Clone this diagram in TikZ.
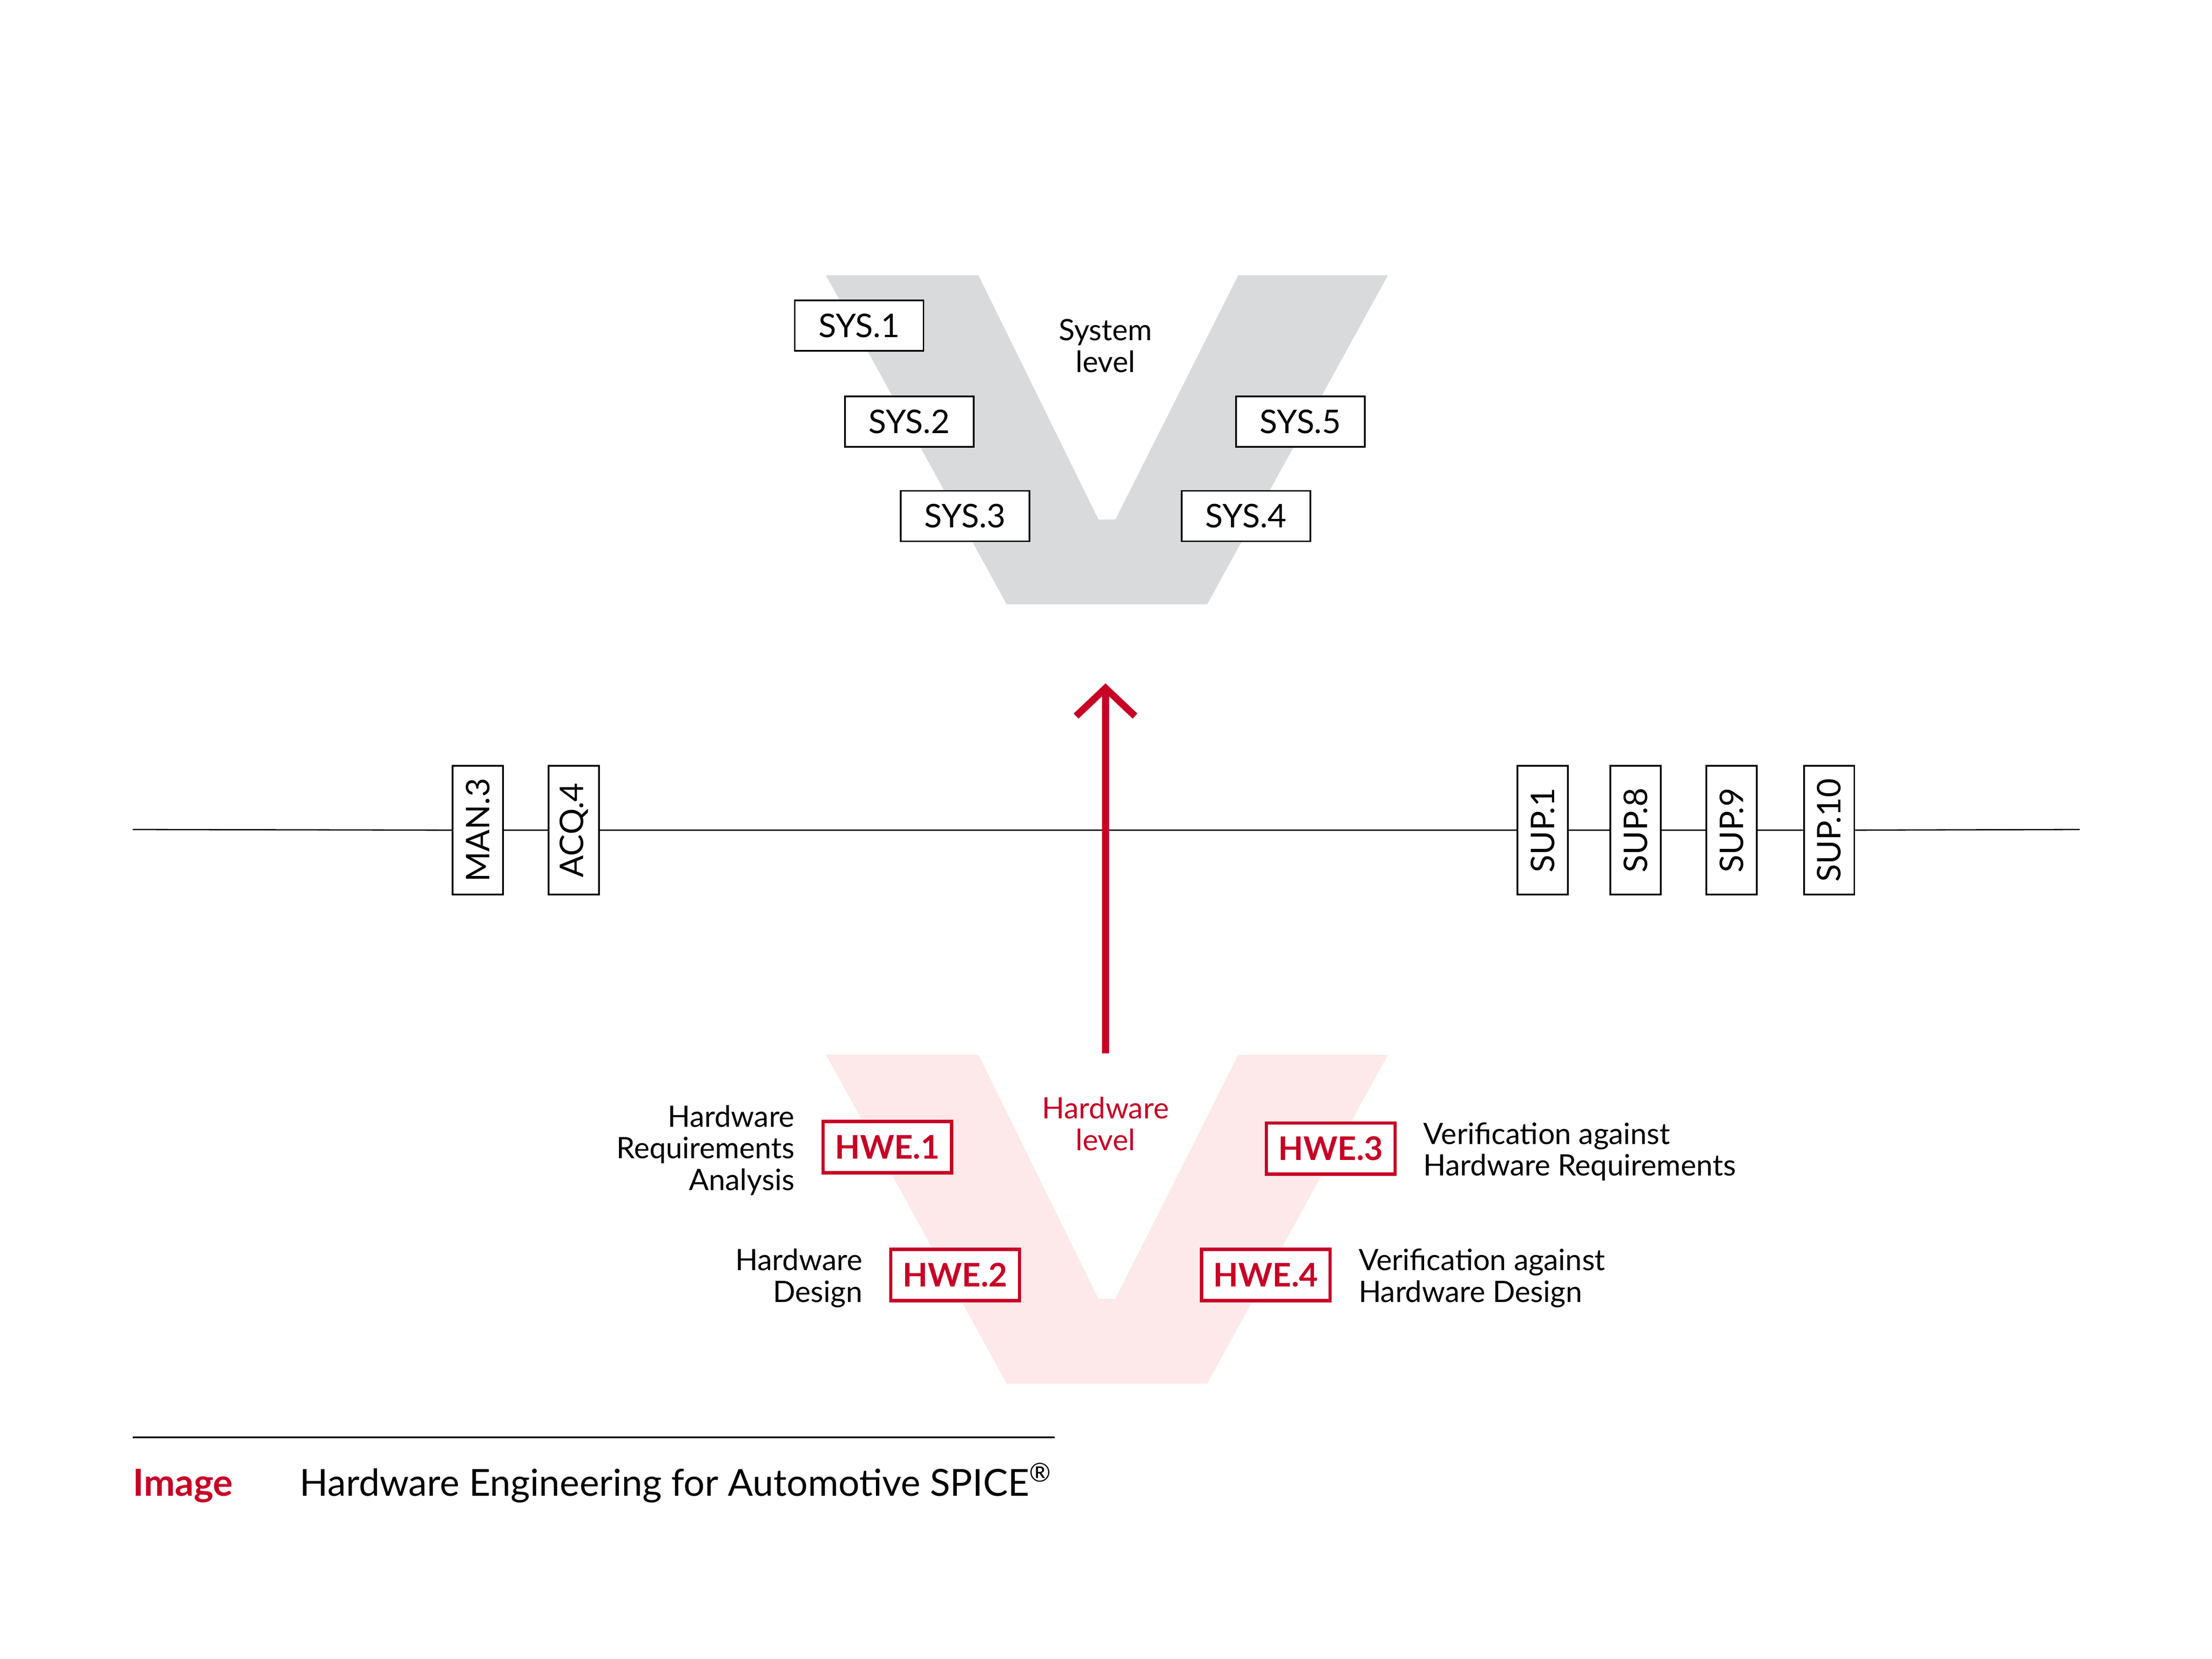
\documentclass[tikz,border=0pt]{standalone}
\usepackage{fontspec}
\setmainfont{Lato}
\usetikzlibrary{positioning}
\usetikzlibrary{arrows.meta}
\usepackage{xcolor}
\definecolor{hwred}{RGB}{200,0,38}
\definecolor{vgray}{RGB}{217,218,219}
\definecolor{vpink}{RGB}{253,233,233}

\begin{document}
\begin{tikzpicture}[
        x=0.32mm, y=-0.32mm,
        pbox/.style={rectangle, draw=black, fill=white, line width=1.1pt, minimum width=83pt, minimum height=32.5pt, inner sep=0pt, font=\fontsize{21}{24}\selectfont},
        vbox/.style={pbox, rotate=90},
        hbox/.style={rectangle, draw=hwred, fill=white, line width=2.2pt, minimum width=83pt, minimum height=33pt, inner sep=0pt, text=hwred, font=\fontsize{21}{24}\selectfont\bfseries},
        lbl/.style={inner sep=0pt, font=\fontsize{19}{20.5}\selectfont},
        node distance=6mm
    ]
        \useasboundingbox (0,0) rectangle (1566.7,1175);

        % the two V shapes
        \fill[vgray] (585,195) -- (693,195) -- (778,368) -- (790,368) -- (877,195) -- (983,195) -- (855,428) -- (713,428) -- cycle;
        \fill[vpink] (585,747) -- (693,747) -- (778,920) -- (790,920) -- (877,747) -- (983,747) -- (855,980) -- (713,980) -- cycle;

        % system level
        \node[pbox] (sys1) at (608.5,230.5) {SYS.1};
        \node[pbox] (sys2) at (644,298.5) {SYS.2};
        \node[pbox] (sys3) at (683.5,365.5) {SYS.3};
        \node[pbox] (sys4) at (882.5,365.5) {SYS.4};
        \node[pbox] (sys5) at (921,298.5) {SYS.5};
        \node[lbl, align=center] (syslevel) at (783,245) {System\\level};

        % processes along the line
        \coordinate (lineL) at (94,587.5);
        \coordinate (lineR) at (1473,587.5);
        \node[vbox] (man3) at (338.5,588) {MAN.3};
        \node[vbox] (acq4) at (406.5,588) {ACQ.4};
        \node[vbox] (sup1) at (1092.5,588) {SUP.1};
        \node[vbox] (sup8) at (1158.5,588) {SUP.8};
        \node[vbox] (sup9) at (1226.5,588) {SUP.9};
        \node[vbox] (sup10) at (1295.5,588) {SUP.10};
        \draw[line width=0.8pt] (lineL) -- (man3) -- (acq4) -- (sup1) -- (sup8) -- (sup9) -- (sup10) -- (lineR);

        % arrow up to system level
        \coordinate (hwtop) at (783,746);
        \coordinate (systip) at (783,484);
        \draw[hwred, line width=4.5pt, -{Straight Barb[length=18pt, width=38pt]}] (hwtop) -- (systip);

        % hardware level
        \node[lbl, text=hwred, align=center] (hwlevel) at (783,796) {Hardware\\level};
        \node[hbox] (hwe1) at (628.5,812.5) {HWE.1};
        \node[hbox] (hwe2) at (676.5,903) {HWE.2};
        \node[hbox] (hwe3) at (942.5,813.5) {HWE.3};
        \node[hbox] (hwe4) at (896.5,903) {HWE.4};

        \node[lbl, align=right, left=of hwe1, yshift=-2pt] (hwe1txt) {Hardware\\Requirements\\Analysis};
        \node[lbl, align=right, left=of hwe2, yshift=-2pt] (hwe2txt) {Hardware\\Design};
        \node[lbl, align=left, right=of hwe3, yshift=-2pt] (hwe3txt) {Verification against\\Hardware Requirements};
        \node[lbl, align=left, right=of hwe4, yshift=-2pt] (hwe4txt) {Verification against\\Hardware Design};

        % caption
        \coordinate (capL) at (94,1018);
        \coordinate (capR) at (747,1018);
        \draw[line width=1.1pt] (capL) -- (capR);
        \node[anchor=base west, inner sep=0pt, text=hwred, font=\fontsize{24}{27}\selectfont\bfseries] (imgtag) at (94,1059.5) {Image};
        \node[anchor=base west, inner sep=0pt, font=\fontsize{24}{27}\selectfont] (caption) at (212,1059.5) {Hardware Engineering for Automotive SPICE\textsuperscript{®}};
    \end{tikzpicture}
\end{document}
